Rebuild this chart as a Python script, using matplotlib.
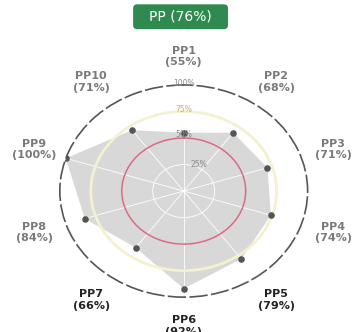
import numpy as np
from matplotlib import pyplot as plt
from matplotlib.patches import FancyBboxPatch

# data
categories = ["PP1", "PP2", "PP3", "PP4", "PP5", "PP6", "PP7", "PP8", "PP9", "PP10"]
values = [55, 68, 71, 74, 79, 92, 66, 84, 100, 71]
label_colors = ["#7a7a7a"] * 4 + ["#222222"] * 3 + ["#7a7a7a"] * 3
title = "PP (76%)"
ring_levels = [25, 50, 75, 100]
ring_labels = ["25%", "50%", "75%", "100%"]

fig = plt.figure(figsize=(3.54, 3.32), dpi=100)
ax = fig.add_axes([0.169, 0.105, 0.70, 0.639], projection="polar")
ax.set_aspect("auto")
ax.set_theta_offset(np.pi / 2)
ax.set_theta_direction(-1)
ax.set_ylim(0, 100)

theta = np.linspace(0, 2 * np.pi, len(categories), endpoint=False)
th_closed = np.append(theta, theta[0])
val_closed = np.append(values, values[0])

ax.set_facecolor("white")
ax.fill(th_closed, val_closed, color="#d4d4d4", alpha=0.9, lw=0, zorder=1)

circ = np.linspace(0, 2 * np.pi, 300)
ax.plot(circ, np.full_like(circ, 75), color="#f3f1cf", lw=2.0, zorder=2)
ax.plot(circ, np.full_like(circ, 50), color="#d86a80", lw=1.1, zorder=2)

ax.scatter(theta, values, s=14, color="#555555", zorder=4)

ax.spines["polar"].set_color("#555555")
ax.spines["polar"].set_linewidth(1.2)
ax.spines["polar"].set_linestyle((0, (10, 3)))

ax.set_xticks(theta)
ax.set_xticklabels([])
ax.set_yticks(ring_levels)
ax.set_yticklabels([])
ax.grid(color="white", lw=0.6)

# ring labels
ring_cols = ["#8a8a8a", "#8a8a8a", "#d4a86a", "#8a8a8a"]
ring_pos = [(0.45, 28), (0.0, 53), (0.0, 77), (0.0, 101)]
for (a, r), txt, c in zip(ring_pos, ring_labels, ring_cols):
    ax.text(a, r, txt, ha="center", va="center", fontsize=5.5,
            color=c, zorder=5)

# category labels
for t, cat, v, c in zip(theta, categories, values, label_colors):
    ax.text(t, 127, "%s\n(%d%%)" % (cat, v), ha="center", va="center",
            fontsize=8, color=c, fontweight="bold",
            family=["Liberation Sans Narrow", "DejaVu Sans"],
            linespacing=1.2, clip_on=False)

# title badge
box = FancyBboxPatch((0.376, 0.912), 0.268, 0.075,
                     boxstyle="round,pad=0.0,rounding_size=0.012",
                     transform=fig.transFigure, facecolor="#2f8a4f",
                     edgecolor="none")
fig.patches.append(box)
fig.text(0.51, 0.949, title, ha="center", va="center", fontsize=10,
         color="white", family=["Liberation Sans Narrow", "DejaVu Sans"])

fig.savefig("out.png", dpi=100)
